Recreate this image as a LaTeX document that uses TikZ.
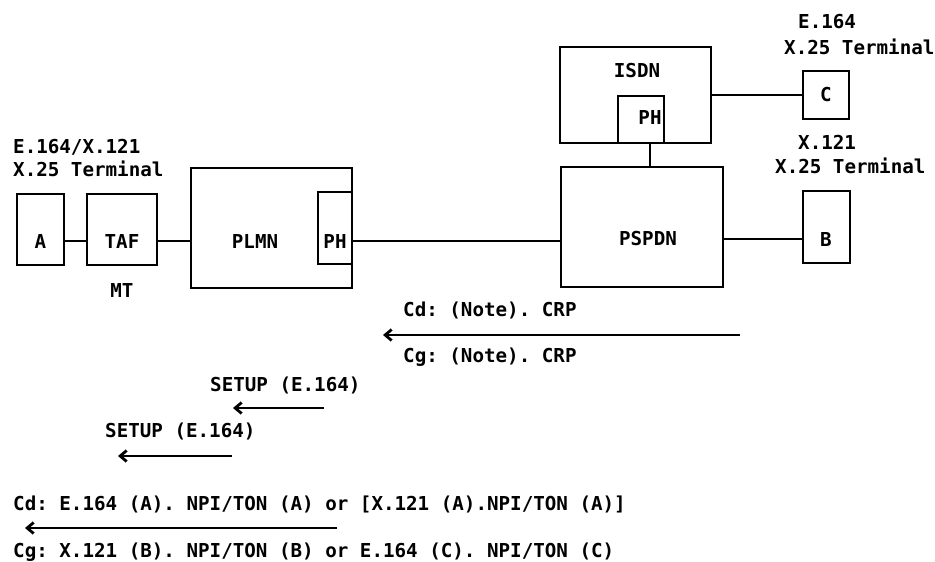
\documentclass[tikz,border=0pt]{standalone}
\usepackage{fontspec}
\usepackage{tikz}
\usetikzlibrary{arrows.meta,positioning}
\newfontfamily\plotfont{DejaVu Sans Mono}
\frenchspacing

\begin{document}
\begin{tikzpicture}[
    x=1pt,y=-1pt,
    >={Straight Barb[length=6.5pt,width=11pt,line width=2.8pt]},
    box/.style={rectangle,draw,line width=1.4pt,inner sep=0pt},
    lbl/.style={font=\plotfont\bfseries\fontsize{19.2}{22}\selectfont,inner sep=0pt},
    txt/.style={lbl,anchor=west},
    link/.style={line width=1.4pt},
    msg/.style={->,line width=1.6pt}
  ]
  \useasboundingbox (0,0) rectangle (935,562);
  %% Mobile side (left)
  \node[box,minimum width=47,minimum height=71]  (A)    at (40.5,229.5) {};
  \node[box,minimum width=70,minimum height=71]  (TAF)  at (122,229.5)  {};
  \node[box,minimum width=161,minimum height=120] (PLMN) at (271.5,228) {};
  \node[box,minimum width=34,minimum height=72]  (PHa)  at (335,228)    {};
  \node[lbl] (Alab)    at (40.5,241) {A};
  \node[lbl] (TAFlab)  at (122,241)  {TAF};
  \node[lbl] (PLMNlab) at (255,241)  {PLMN};
  \node[lbl] (PHalab)  at (335,241)  {PH};
  \node[lbl] (MT)      at (122,290)  {MT};
  \draw[link] (A.east |- Alab) -- (TAF.west |- Alab);
  \draw[link] (TAF.east |- TAFlab) -- (PLMN.west |- TAFlab);
  %% Fixed networks (right)
  \node[box,minimum width=151,minimum height=96] (ISDN)  at (635.5,95)  {};
  \node[box,minimum width=46,minimum height=47]  (PHb)   at (641,119.5) {};
  \node[box,minimum width=162,minimum height=120] (PSPDN) at (642,227)  {};
  \node[box,minimum width=46,minimum height=48]  (C)     at (826,95)    {};
  \node[box,minimum width=47,minimum height=72]  (B)     at (826.5,227) {};
  \node[lbl] (ISDNlab)  at (637,71)  {ISDN};
  \node[lbl] (PHblab)   at (650,118) {PH};
  \node[lbl] (PSPDNlab) at (648,239) {PSPDN};
  \node[lbl] (Clab)     at (826,95)  {C};
  \node[lbl] (Blab)     at (826,239) {B};
  \draw[link] (PHa.east |- PHalab) -- (PSPDN.west |- PHalab);
  \draw[link] (PHblab |- PHb.south) -- (PHblab |- PSPDN.north);
  \draw[link] (ISDN.east) -- (C.west);
  \draw[link] (PSPDN.east |- Blab) -- (B.west |- Blab);
  %% Terminal labels
  \node[txt] (termA1) at (13,147)  {E.164/X.121};
  \node[txt] (termA2) at (13,169)  {X.25 Terminal};
  \node[txt] (termC1) at (798,22)  {E.164};
  \node[txt] (termC2) at (784,47)  {X.25 Terminal};
  \node[txt] (termB1) at (798,142) {X.121};
  \node[txt] (termB2) at (775,166) {X.25 Terminal};
  %% Messages
  \node[txt] (crpCd) at (403,310) {Cd: (Note). CRP};
  \node[txt] (crpCg) at (403,357) {Cg: (Note). CRP};
  \coordinate (crpR) at (740,335);
  \coordinate (crpL) at (383,335);
  \draw[msg] (crpR) -- (crpL);
  \node[txt] (setupA) at (210,385) {SETUP (E.164)};
  \coordinate (setupAR) at (324,408);
  \coordinate (setupAL) at (233,408);
  \draw[msg] (setupAR) -- (setupAL);
  \node[txt] (setupB) at (105,431) {SETUP (E.164)};
  \coordinate (setupBR) at (232,456);
  \coordinate (setupBL) at (118,456);
  \draw[msg] (setupBR) -- (setupBL);
  \node[txt] (finCd) at (13,504) {Cd: E.164 (A). NPI/TON (A) or [X.121 (A).NPI/TON (A)]};
  \node[txt] (finCg) at (13,552) {Cg: X.121 (B). NPI/TON (B) or E.164 (C). NPI/TON (C)};
  \coordinate (finR) at (337,528);
  \coordinate (finL) at (25,528);
  \draw[msg] (finR) -- (finL);
\end{tikzpicture}
\end{document}
